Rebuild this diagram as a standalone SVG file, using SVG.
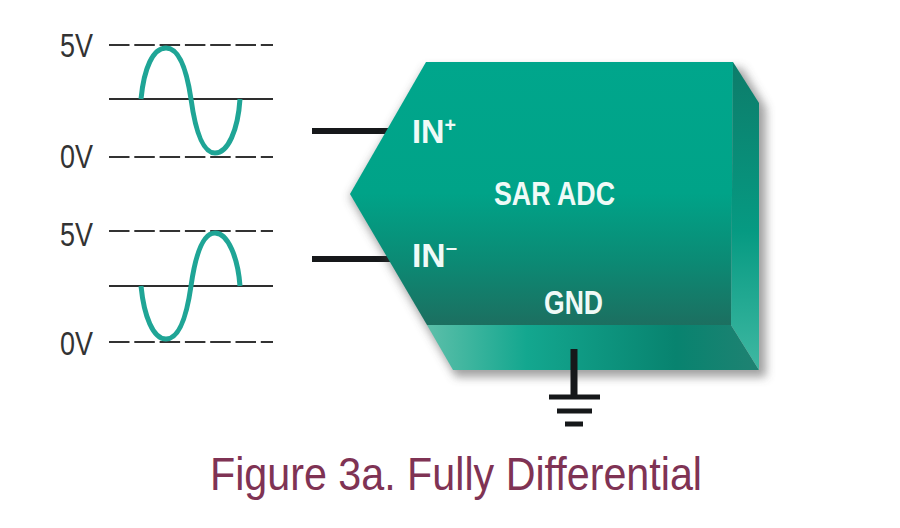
<svg xmlns="http://www.w3.org/2000/svg" width="900" height="528" viewBox="0 0 900 528">
<style>
.v{font:34px "Liberation Sans",Arial,sans-serif;fill:#333}
.w{font:bold 33px "Liberation Sans",Arial,sans-serif;fill:#f0faf7}
.d{stroke:#333;stroke-width:2;fill:none;stroke-dasharray:20.5 4.8}
.m{stroke:#2e2e2e;stroke-width:2;fill:none}
.sine{stroke:#1fa596;stroke-width:5;fill:none}
.k{stroke:#16181a;fill:none}
</style>
<defs>
<linearGradient id="front" x1="0" y1="0" x2="0" y2="1"><stop offset="0" stop-color="#00a68c"/><stop offset="0.5" stop-color="#00a388"/><stop offset="0.75" stop-color="#0b8b75"/><stop offset="1" stop-color="#1c6f60"/></linearGradient>
<linearGradient id="bottom" x1="0" y1="0" x2="1" y2="0"><stop offset="0" stop-color="#5cbfa9"/><stop offset="0.3" stop-color="#13a78f"/><stop offset="0.75" stop-color="#08836f"/><stop offset="1" stop-color="#1f8272"/></linearGradient>
<linearGradient id="side" x1="0" y1="0" x2="0" y2="1"><stop offset="0" stop-color="#0d7c6a"/><stop offset="0.55" stop-color="#069a82"/><stop offset="1" stop-color="#3fb8a2"/></linearGradient>
<filter id="blur" x="-10%" y="-10%" width="120%" height="120%"><feGaussianBlur stdDeviation="5"/></filter>
</defs>
<rect width="900" height="528" fill="#fff"/>
<g id="connectors">
<line class="k" x1="312" y1="131" x2="392" y2="131" stroke-width="6"/>
<line class="k" x1="312" y1="259" x2="392" y2="259" stroke-width="6"/>
</g>
<g id="adc">
<path d="M350 197L426 68H742L766 108V377H456Z" fill="#444" opacity="0.5" filter="url(#blur)"/>
<path d="M350 194L426 62H733L731 325H427Z" fill="url(#front)"/>
<path d="M427 325H731L759 370H453Z" fill="url(#bottom)"/>
<path d="M733 62L759 103V370L731 325Z" fill="url(#side)"/>
<text class="w" x="412" y="143" textLength="44" lengthAdjust="spacingAndGlyphs">IN<tspan dy="-11" style="font-size:20px">+</tspan></text>
<text class="w" x="412" y="267" textLength="45" lengthAdjust="spacingAndGlyphs">IN<tspan dy="-13" style="font-size:20px">–</tspan></text>
<text class="w" x="494" y="205" textLength="121" lengthAdjust="spacingAndGlyphs">SAR ADC</text>
<text class="w" x="544" y="314" textLength="59" lengthAdjust="spacingAndGlyphs">GND</text>
</g>
<g id="ground">
<line class="k" x1="574" y1="349" x2="574" y2="397" stroke-width="7"/>
<line class="k" x1="549" y1="397" x2="600" y2="397" stroke-width="5"/>
<line class="k" x1="557" y1="411" x2="592" y2="411" stroke-width="5"/>
<line class="k" x1="565" y1="424" x2="583" y2="424" stroke-width="5"/>
</g>
<g id="wave-plus">
<text class="v" x="60" y="57" textLength="33" lengthAdjust="spacingAndGlyphs">5V</text>
<text class="v" x="60" y="168" textLength="33" lengthAdjust="spacingAndGlyphs">0V</text>
<line class="d" x1="109" y1="45" x2="273" y2="45"/>
<line class="m" x1="109" y1="99" x2="273" y2="99"/>
<line class="d" x1="109" y1="157" x2="273" y2="157"/>
<path class="sine" d="M141 99C144 68 153 48 166 48C180 48 187 72 191 99C195 128 202 153 215 153C228 153 238 130 240 99"/>
</g>
<g id="wave-minus">
<text class="v" x="60" y="246" textLength="33" lengthAdjust="spacingAndGlyphs">5V</text>
<text class="v" x="60" y="355" textLength="33" lengthAdjust="spacingAndGlyphs">0V</text>
<line class="d" x1="109" y1="231" x2="273" y2="231"/>
<line class="m" x1="109" y1="286" x2="273" y2="286"/>
<line class="d" x1="109" y1="342" x2="273" y2="342"/>
<path class="sine" d="M141 286C144 316 153 339 166 339C180 339 187 314 191 286C195 258 202 233 215 233C228 233 238 258 240 286"/>
</g>
<text x="210" y="490" textLength="492" lengthAdjust="spacingAndGlyphs" style="font:46px 'Liberation Sans',Arial,sans-serif;fill:#7f3354">Figure 3a. Fully Differential</text>
</svg>
